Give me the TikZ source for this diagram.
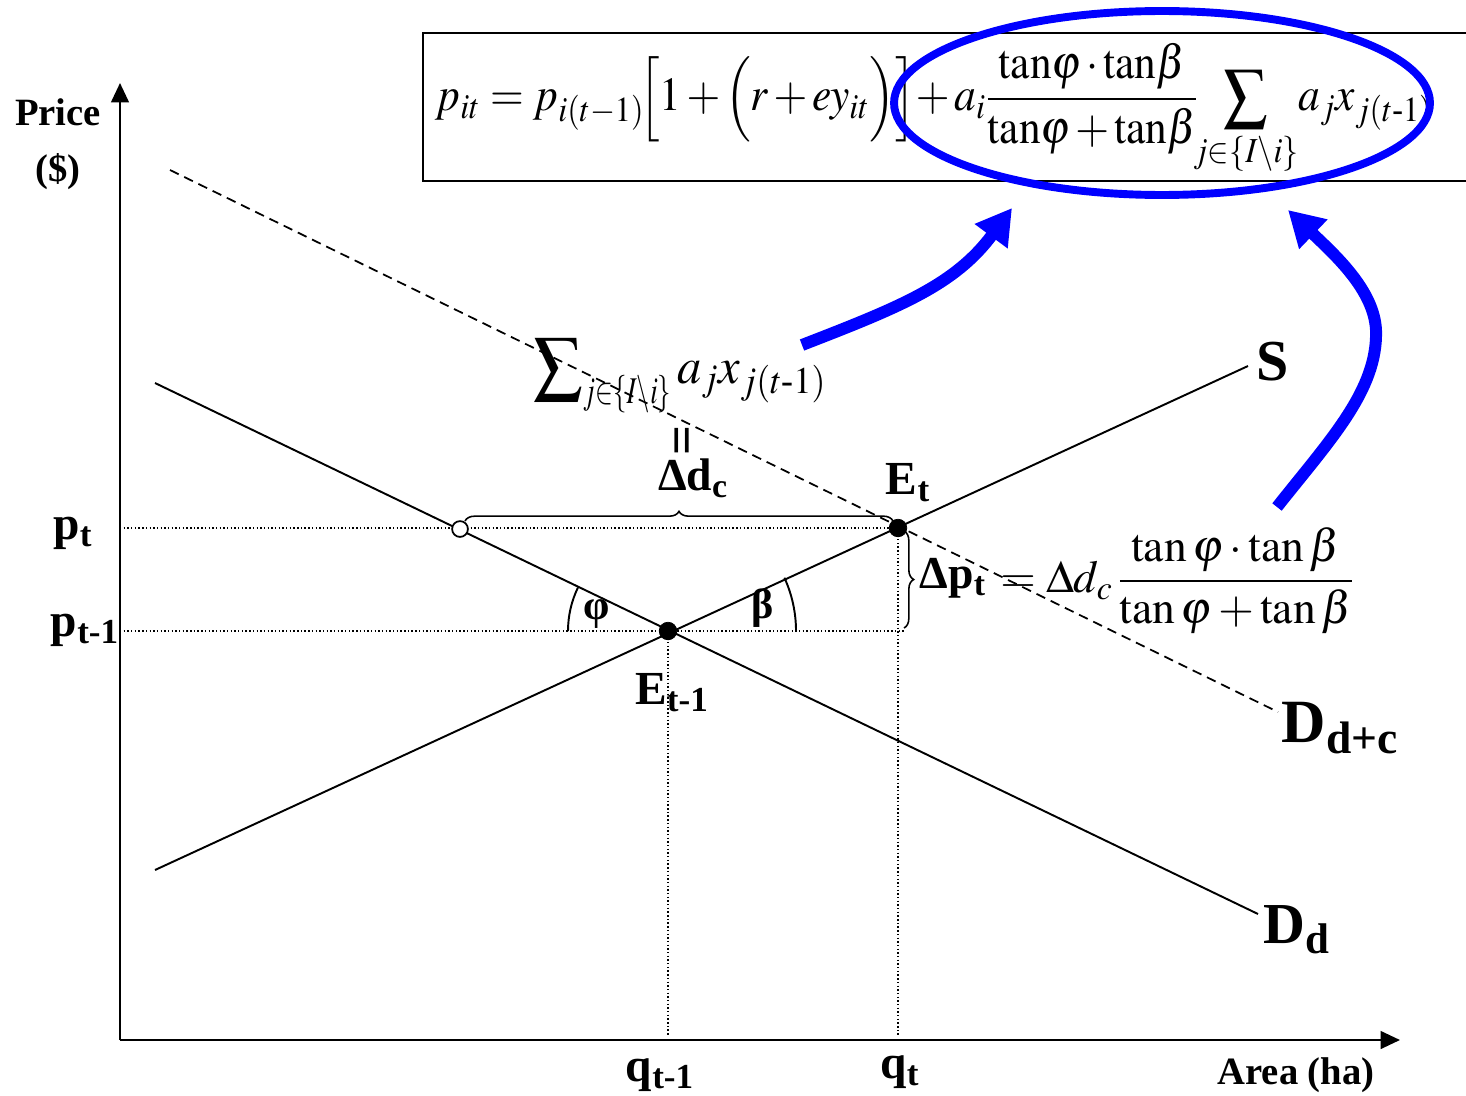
\documentclass[tikz,border=0pt]{standalone}
\usepackage{amsmath}
\usepackage{graphicx}
\usepackage{mathptmx}
\usepackage[no-math]{fontspec}
\setmainfont{Liberation Serif}
\usetikzlibrary{arrows.meta,decorations.pathreplacing,calc,shapes.geometric}
\newcommand{\fsz}[1]{\fontsize{#1}{#1}\selectfont}
\newcommand{\tn}{\mathrm{tan}}
\definecolor{arrblue}{RGB}{0,0,255}
\begin{document}
\begin{tikzpicture}[x=0.02cm,y=-0.02cm,
  axis/.style={line width=1.4pt,-{Triangle[length=11pt,width=10pt]}},
  curve/.style={line width=1.1pt},
  dashline/.style={line width=1pt,dash pattern=on 5.5pt off 3.5pt},
  guide/.style={line width=0.8pt,dash pattern=on 0.8pt off 1.3pt},
  lab/.style={inner sep=0pt},
  bluearrow/.style={draw=arrblue,line width=6.8pt,-{Triangle[length=20pt,width=22pt]}},
  dot/.style={circle,fill=black,draw=black,minimum size=10pt,inner sep=0pt},
  odot/.style={circle,fill=white,draw=black,line width=1pt,minimum size=9pt,inner sep=0pt},
  bracestyle/.style={line width=0.9pt,decorate,decoration={brace,amplitude=5.5pt}}]
\useasboundingbox (0,0) rectangle (1466,1095);

% axes
\coordinate (O) at (120,1040);
\coordinate (Ytop) at (120,83);
\coordinate (Xend) at (1400,1040);
\draw[axis] (O) -- (Ytop);
\draw[axis] (O) -- (Xend);

% key points
\coordinate (Et1) at (668,631);
\coordinate (Et) at (898,528);
\coordinate (Oc) at (460,529);
\coordinate (ypt) at (120,528);
\coordinate (ypt1) at (120,631);
\coordinate (pt1end) at (905,631);
\coordinate (qt1) at (668,1035);
\coordinate (qt) at (898,1035);

% guide lines
\draw[guide] (ypt) -- (Et);
\draw[guide] (ypt1) -- (pt1end);
\draw[guide] (Et1) -- (qt1);
\draw[guide] (Et) -- (qt);

% curves
\coordinate (Dd1) at (155,383);
\coordinate (Dd2) at (1258,914);
\coordinate (S1) at (155,870);
\coordinate (S2) at (1248,366);
\coordinate (Dc1) at (170,170);
\coordinate (Dc2) at (1278,712);
\draw[curve] (Dd1) -- (Dd2);
\draw[curve] (S1) -- (S2);
\draw[dashline] (Dc1) -- (Dc2);

% angle arcs
\draw[curve] ($(Et1)+(-100,0)$) arc[start angle=180, end angle=205.8, radius=100];
\draw[curve] ($(Et1)+(128,0)$) arc[start angle=0, end angle=-24.6, radius=128];
\node[lab,font=\fsz{24pt}\bfseries] (phi) at (597,614) {φ};
\node[lab,font=\fsz{24pt}\bfseries] (beta) at (763,608) {β};

% braces
\coordinate (b1s) at (465,521);
\coordinate (b1e) at (893,521);
\draw[bracestyle] (b1s) -- (b1e);
\coordinate (b2s) at (904,531);
\coordinate (b2e) at (904,628);
\draw[bracestyle] (b2s) -- (b2e);

% points
\node[odot] (oc) at (Oc) {};
\node[dot] (et1) at (Et1) {};
\node[dot] (et) at (Et) {};

% axis labels
\node[lab,font=\fsz{22pt}\bfseries,align=center] (price) at (58,144) {Price\\[10pt](\$)};
\node[lab,font=\fsz{27pt}\bfseries] (pt) at (73,533) {p\textsubscript{t}};
\node[lab,font=\fsz{27pt}\bfseries] (pt1) at (85,630) {p\textsubscript{t-1}};
\node[lab,font=\fsz{27pt}\bfseries] (qt1l) at (660,1075) {q\textsubscript{t-1}};
\node[lab,font=\fsz{27pt}\bfseries] (qtl) at (900,1072) {q\textsubscript{t}};
\node[lab,font=\fsz{22pt}\bfseries] (area) at (1296,1075) {Area (ha)};

% curve labels
\node[lab,font=\fsz{27pt}\bfseries] (Etl) at (908,483) {E\textsubscript{t}};
\node[lab,font=\fsz{27pt}\bfseries] (Et1l) at (672,693) {E\textsubscript{t-1}};
\node[lab,font=\fsz{33pt}\bfseries] (Sl) at (1273,362) {S};
\node[lab,font=\fsz{35pt}\bfseries] (Dcl) at (1340,728) {D\textsubscript{d+c}};
\node[lab,font=\fsz{33pt}\bfseries] (Ddl) at (1297,930) {D\textsubscript{d}};

% delta labels
\node[lab,font=\fsz{26pt}\bfseries] (dcl) at (693,478) {Δd\textsubscript{c}};
\node[lab,font=\fsz{30pt}\bfseries,rotate=90] (eqv) at (687,440) {=};
\node[lab,font=\fsz{29pt},anchor=base west] (sumexp) at (533,383)
  {\scalebox{0.95}[1]{$\displaystyle\sum\nolimits_{\scalebox{0.75}[1]{$\scriptstyle j\in\{I\setminus i\}$}} a_jx_{j(t\text{-}1)}$}};
\node[lab,font=\fsz{26pt}\bfseries] (dpt) at (953,578) {Δp\textsubscript{t}};
\node[lab,font=\fsz{26pt},anchor=west] (dpform) at (1000,581)
  {$=\Delta d_c\,\dfrac{\tan\varphi\cdot\tan\beta}{\tan\varphi+\tan\beta}$};

% formula box
\coordinate (box1) at (423,33);
\coordinate (box2) at (1480,181);
\draw[line width=1.2pt] (box1) rectangle (box2);
\node[lab,font=\fsz{27pt},anchor=base west] (formula) at (435,111)
  {\medmuskip=2mu plus 1mu\relax
   \scalebox{0.915}[1]{$p_{it} = p_{i(t-1)}\!\Bigl[1+\Bigl(r+ey_{it}\Bigr)\Bigr]\!+a_i\dfrac{\tn\varphi\cdot\tn\beta}{\tn\varphi+\tn\beta}\!\!\displaystyle\sum_{j\in\{I\setminus i\}}\!a_jx_{j(t\text{-}1)}$}};

% blue ellipse
\node[draw=arrblue,line width=4.5pt,ellipse,minimum width=10.72cm,minimum height=3.68cm,inner sep=0pt] (ell) at (1162,103) {};

% blue arrows
\coordinate (a1s) at (802,345);
\coordinate (a1e) at (1012,208);
\draw[bluearrow] (a1s) .. controls (900,307) and (955,285) .. (a1e);
\coordinate (a2s) at (1277,507);
\coordinate (a2m) at (1376,330);
\coordinate (a2e) at (1288,210);
\draw[bluearrow] (a2s) .. controls (1330,440) and (1378,390) .. (a2m) .. controls (1374,290) and (1335,255) .. (a2e);
\end{tikzpicture}
\end{document}
